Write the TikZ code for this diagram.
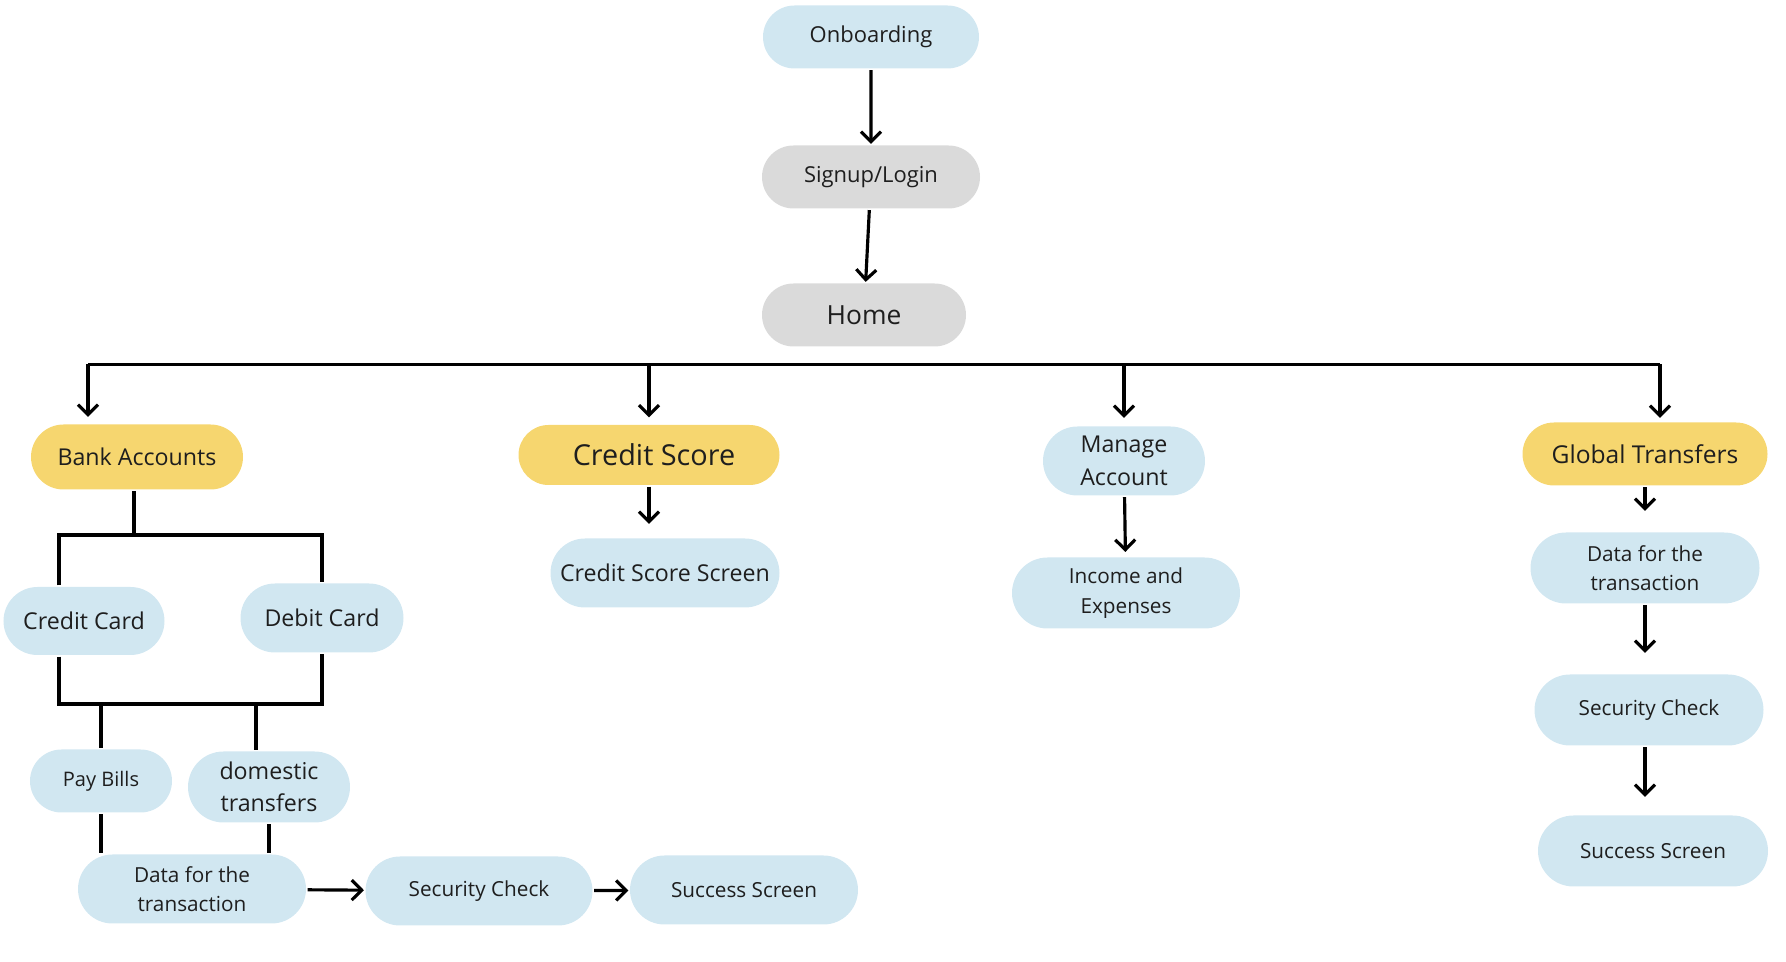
\documentclass[tikz,border=0pt]{standalone}
\usepackage{fontspec}
\setmainfont{Open Sans}
\usetikzlibrary{positioning, arrows.meta, shapes.misc}
\definecolor{pillblue}{HTML}{D1E7F1}
\definecolor{pillyellow}{HTML}{F6D66F}
\definecolor{pillgray}{HTML}{DADADA}
\definecolor{ink}{HTML}{1E1E1E}

\begin{document}
\begin{tikzpicture}[on grid, line width=0.9pt,
    >={Straight Barb[length=1mm,width=2mm]},
    pill/.style={rounded rectangle, inner sep=0pt, align=center, text=ink},
    blue pill/.style={pill, fill=pillblue},
    yellow pill/.style={pill, fill=pillyellow},
    gray pill/.style={pill, fill=pillgray},
    small txt/.style={font=\fontsize{5.9}{8.1}\selectfont},
    mid txt/.style={font=\fontsize{6.6}{9.2}\selectfont}]
    \useasboundingbox (0,0) rectangle (17.86,-9.62);

    % top chain
    \node[blue pill, minimum width=2.16cm, minimum height=0.63cm,
          font=\fontsize{6.25}{7.5}\selectfont] (onb) at (8.71,-0.37) {Onboarding};
    \node[gray pill, minimum width=2.18cm, minimum height=0.63cm,
          font=\fontsize{6.25}{7.5}\selectfont] (sign) [below=1.40 of onb] {Signup/Login};
    \node[gray pill, minimum width=2.04cm, minimum height=0.63cm,
          font=\fontsize{7.5}{9}\selectfont] (home) [below=1.38 of sign, xshift=-0.07cm] {Home};

    % main branches
    \node[yellow pill, minimum width=2.12cm, minimum height=0.65cm, mid txt] (bank) at (1.37,-4.57) {Bank Accounts};
    \node[yellow pill, minimum width=2.61cm, minimum height=0.60cm,
          font=\fontsize{8.2}{9.8}\selectfont] (cs) at (6.49,-4.55) {\hspace{0.1cm}Credit Score};
    \node[blue pill, minimum width=1.62cm, minimum height=0.69cm,
          font=\fontsize{6.6}{9.4}\selectfont] (man) at (11.24,-4.61) {Manage\\Account};
    \node[yellow pill, minimum width=2.45cm, minimum height=0.63cm,
          font=\fontsize{7.0}{8.4}\selectfont] (glob) at (16.45,-4.54) {Global Transfers};

    % credit score, manage account
    \node[blue pill, minimum width=2.29cm, minimum height=0.69cm, mid txt] (css) [below=1.18 of cs, xshift=0.16cm] {Credit Score Screen};
    \node[blue pill, minimum width=2.28cm, minimum height=0.71cm,
          font=\fontsize{5.9}{8.4}\selectfont] (inc) [below=1.32 of man, xshift=0.02cm] {Income and\\Expenses};

    % global transfers
    \node[blue pill, minimum width=2.29cm, minimum height=0.71cm, small txt] (datr) [below=1.14 of glob] {Data for the\\transaction};
    \node[blue pill, minimum width=2.29cm, minimum height=0.71cm, small txt] (secr) [below=1.42 of datr, xshift=0.04cm] {Security Check};
    \node[blue pill, minimum width=2.30cm, minimum height=0.71cm, small txt] (succr) [below=1.41 of secr, xshift=0.04cm] {Success Screen};

    % bank accounts
    \node[blue pill, minimum width=1.61cm, minimum height=0.68cm, mid txt] (cc) at (0.84,-6.21) {Credit Card};
    \node[blue pill, minimum width=1.63cm, minimum height=0.69cm, mid txt] (dc) at (3.22,-6.18) {Debit Card};
    \node[blue pill, minimum width=1.42cm, minimum height=0.63cm,
          font=\fontsize{5.7}{6.8}\selectfont] (pay) at (1.01,-7.81) {Pay Bills};
    \node[blue pill, minimum width=1.62cm, minimum height=0.71cm,
          font=\fontsize{6.6}{9.1}\selectfont] (dom) at (2.69,-7.87) {domestic\\transfers};
    \node[blue pill, minimum width=2.28cm, minimum height=0.69cm, small txt] (datl) at (1.92,-8.89) {Data for the\\transaction};
    \node[blue pill, minimum width=2.27cm, minimum height=0.69cm, small txt] (secl) [right=2.87 of datl, yshift=-0.02cm] {Security Check};
    \node[blue pill, minimum width=2.28cm, minimum height=0.69cm, small txt] (succl) [right=2.65 of secl, yshift=0.01cm] {Success Screen};

    \coordinate (busL) at (0.88,-3.645);
    \coordinate (busR) at (16.60,-3.645);
    \coordinate (brA) at (0.59,-5.35);
    \coordinate (brB) at (3.22,-5.35);
    \coordinate (brC) at (0.59,-7.04);
    \coordinate (brD) at (3.22,-7.04);
    \coordinate (dropD) at (2.56,-7.04);

    \draw[->] (onb) -- (sign);
    \draw[->] (sign) -- (home);

    \draw (busL) -- (busR);
    \draw[->, shorten >=0.6mm] (busL) -- (busL |- bank.north);
    \draw[->, shorten >=0.6mm] (cs |- busL) -- (cs.north);
    \draw[->, shorten >=0.7mm] (man |- busL) -- (man.north);
    \draw[->, shorten >=0.3mm] (busR) -- (busR |- glob.north);

    \draw[->, shorten >=1.3mm] (cs.south) -- (cs.south |- css.north);
    \draw[->, shorten >=0.4mm] (man) -- (inc);
    \draw[->, shorten >=2mm] (glob.south) -- (glob.south |- datr.north);
    \draw[->, shorten >=2mm] (datr.south) -- (datr.south |- secr.north);
    \draw[->, shorten >=1.7mm] (datr.south |- secr.south) -- (datr.south |- succr.north);

    \draw (bank.south -| 1.34,0) -- (1.34,-5.35);
    \draw (cc.north -| brA) -- (brA) -- (brB) -- (dc.north);
    \draw (cc.south -| brC) -- (brC) -- (brD) -- (dc.south);
    \draw (pay.north |- brC) -- (pay.north);
    \draw (dropD) -- (dropD |- dom.north);
    \draw (pay.south) -- (pay.south |- datl.north);
    \draw (dom.south) -- (dom.south |- datl.north);

    \draw[->] (datl) -- (secl);
    \draw[->] (secl) -- (succl);
\end{tikzpicture}
\end{document}
